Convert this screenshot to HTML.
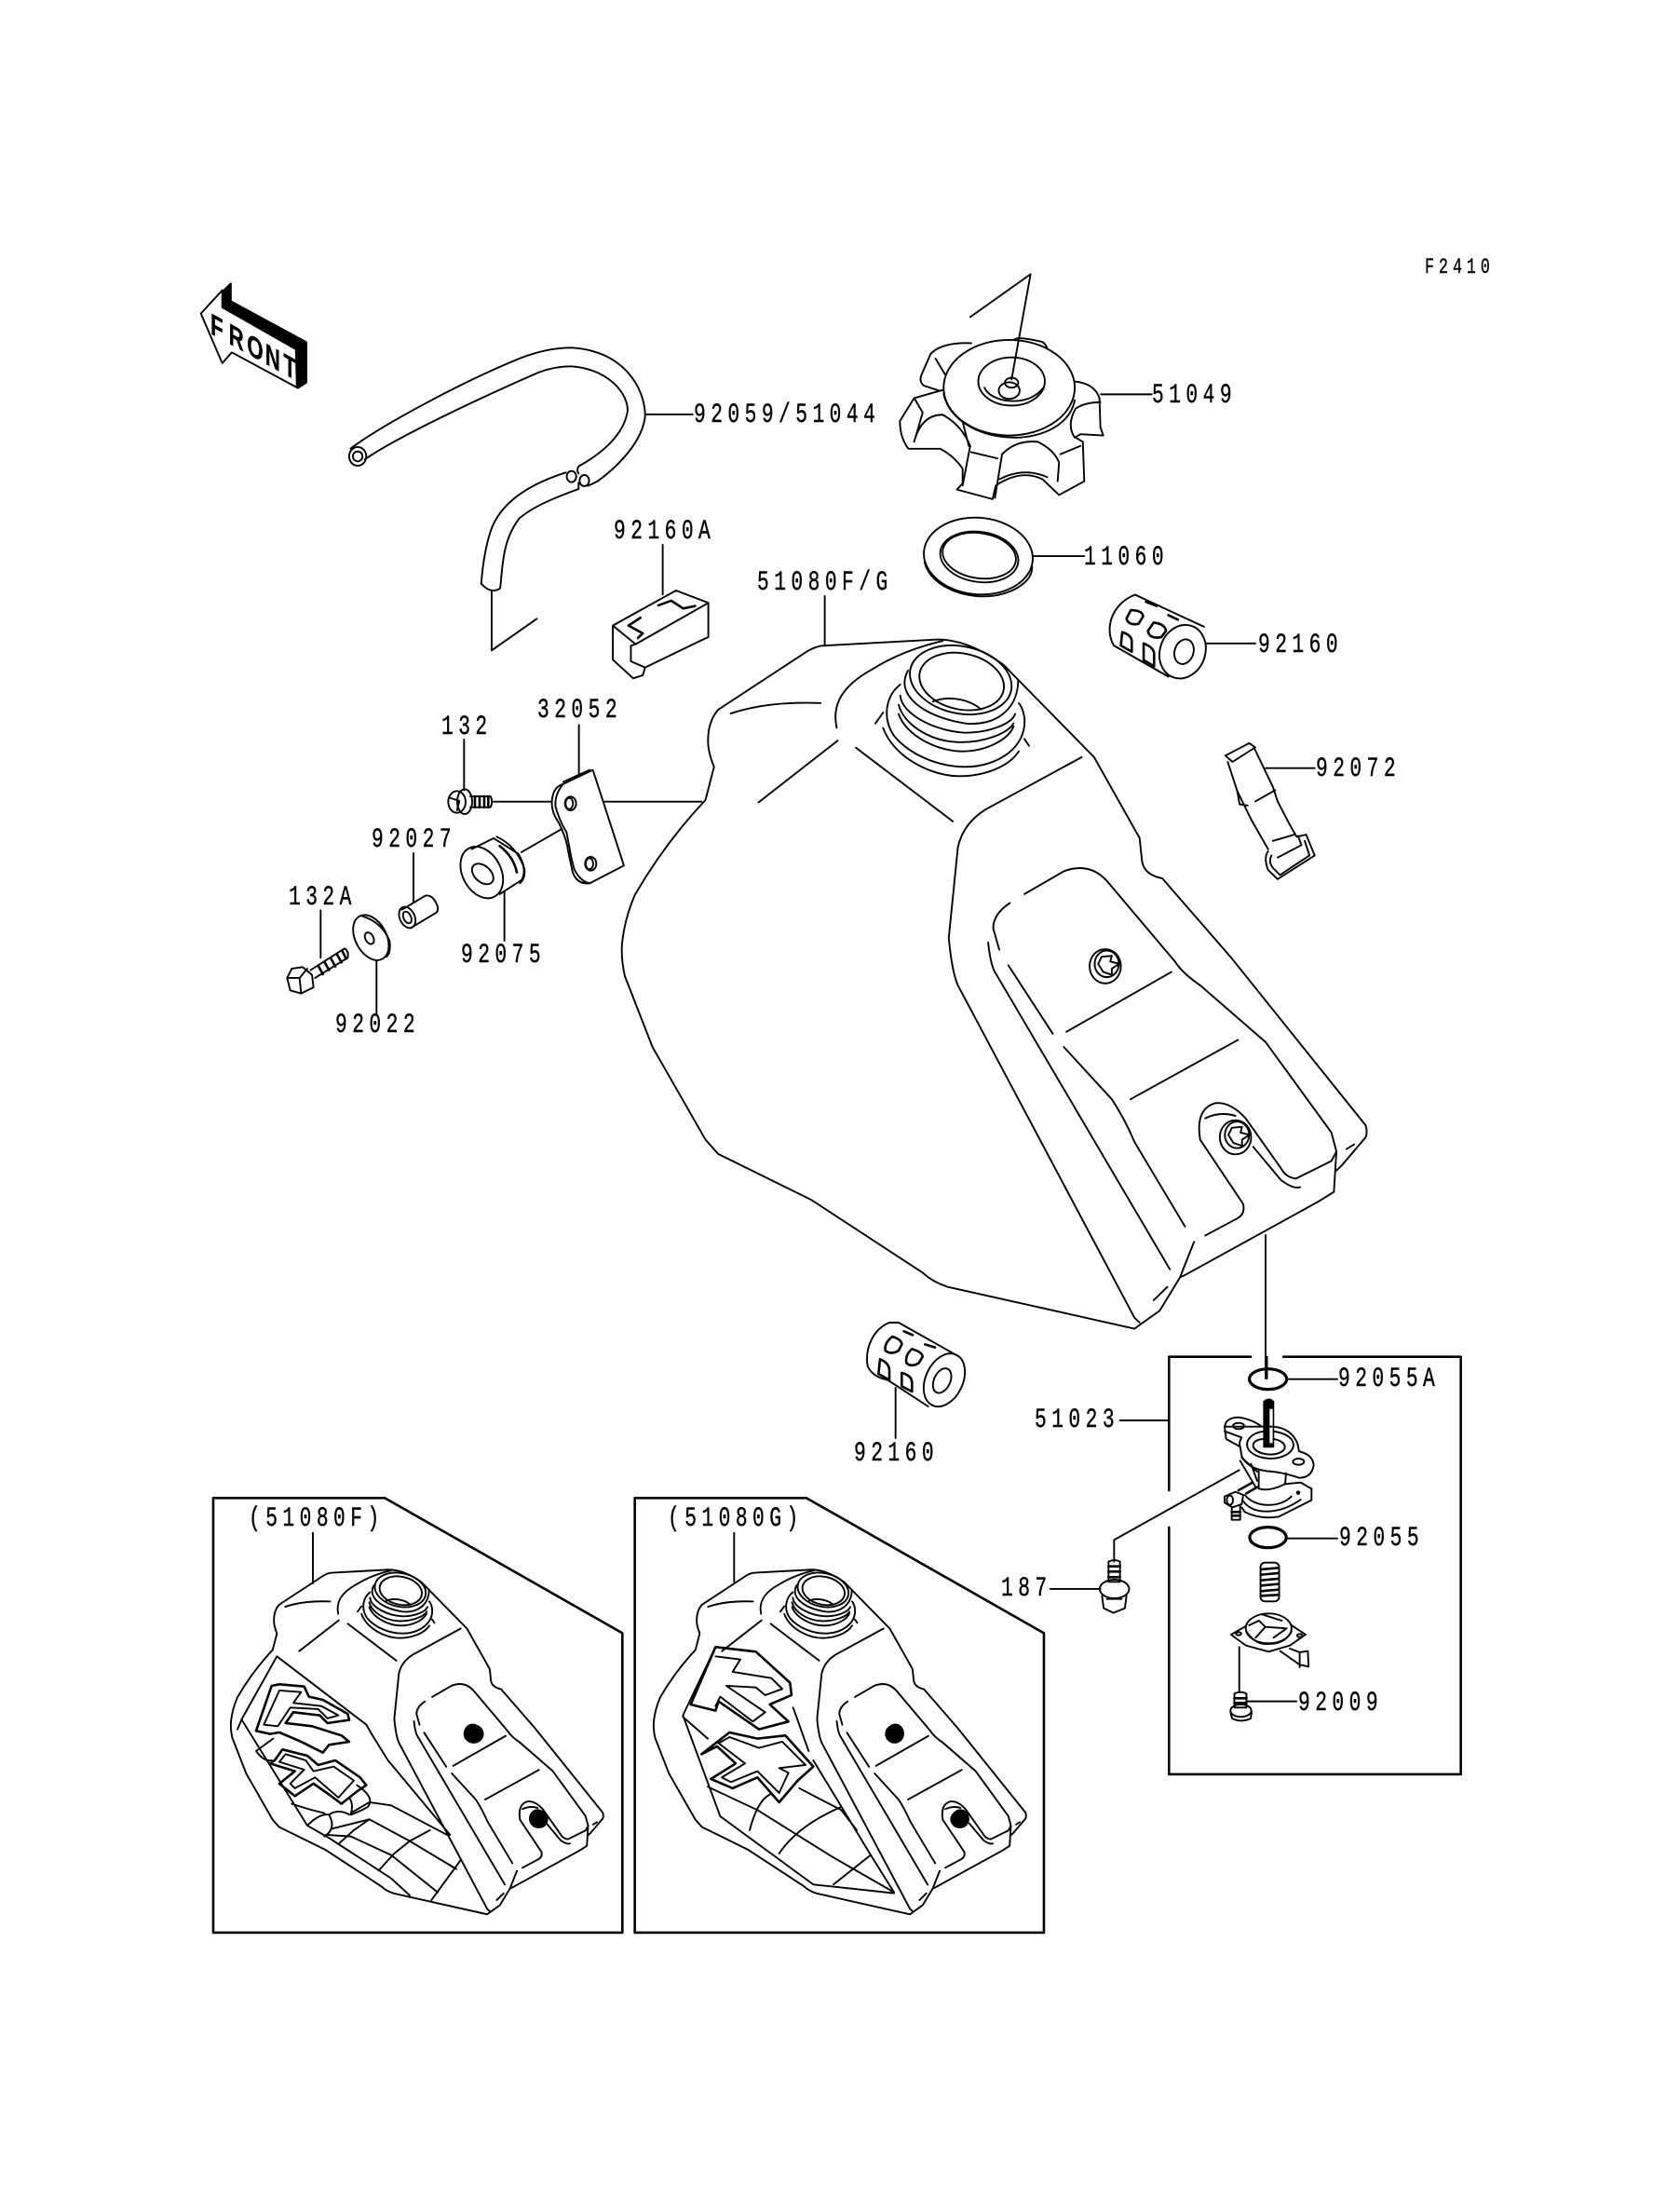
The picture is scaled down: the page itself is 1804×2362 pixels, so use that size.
<!DOCTYPE html>
<html><head><meta charset="utf-8"><style>
html,body{margin:0;padding:0;background:#fff}
svg{display:block}
svg *{vector-effect:non-scaling-stroke}
.s{fill:none;stroke:#000;stroke-width:1.9;stroke-linecap:round;stroke-linejoin:round}
.w{fill:#fff}
.t{stroke-width:2.6}
.o{stroke-width:3.2}
.b{fill:#000}
text{font-family:"Liberation Mono",monospace;font-size:29.5px;letter-spacing:7.6px;fill:#000;stroke:#000;stroke-width:.35}
text.m{font-size:23px;letter-spacing:7px}
text.f{font-family:"Liberation Sans",sans-serif;font-weight:bold;font-size:32px;letter-spacing:0}
</style></head><body>
<svg width="1804" height="2362" viewBox="0 0 1804 2362" xmlns="http://www.w3.org/2000/svg">
<rect width="1804" height="2362" fill="#fff"/>
<defs>
<g id="tank" class="s">
 <g transform="translate(660,660) scale(.542,.51)">
  <path d="M1488,1075Q1492,1090 1488,1100L1440,1160L1430,1170M1430,1130L1425,1215L1395,1235L1130,1390L1120,1395L1080,1465L1030,1503L660,1415Q630,1405 610,1385L390,1232L205,1135L180,1105L75,910L20,760Q12,720 15,690Q20,640 40,590Q100,480 180,390L197,320Q185,290 185,265Q185,225 205,200L380,78Q400,65 415,65L640,52Q700,52 770,105L950,300L1040,470L1045,520Q1050,548 1085,555L1220,720L1488,1075"/>
  <path d="M230,208C280,190 340,183 408,186"/>
  <path d="M440,238C430,190 450,150 510,115Q570,75 650,55"/>
  <path d="M285,395L442,265"/><path d="M478,280L670,435"/>
  <path d="M925,300L735,410Q690,440 680,490L662,680Q668,750 680,780L1030,1480L1040,1490"/>
  <path d="M812,588L890,540Q940,520 975,560L1110,730Q1125,755 1160,780L1290,900L1420,1090L1430,1130L1420,1150L1350,1187Q1330,1185 1320,1165L1250,1060Q1220,1025 1190,1028Q1150,1040 1160,1105L1245,1240Q1250,1260 1235,1270L1170,1307"/>
  <path d="M1170,1060Q1200,1045 1230,1055"/><path d="M1265,1120L1320,1190Q1345,1210 1358,1205"/>
  <path d="M783,607Q750,630 750,660L762,705"/>
  <path d="M740,690Q745,740 755,755L1100,1378"/>
  <path d="M780,738L868,882"/><path d="M895,878L1103,752"/>
  <path d="M890,910L985,1020Q1010,1060 1030,1110L1130,1288"/>
  <path d="M1022,1020L1235,895"/><path d="M1148,1320L1120,1395"/>
  <path d="M1068,1443L1095,1415"/><path d="M1450,1125L1465,1115"/>
  <ellipse cx="972" cy="740" rx="31" ry="36"/><ellipse cx="975" cy="735" rx="24" ry="28"/>
  <path d="M965,720L985,718L982,730L1000,735L985,745L985,758L968,752L958,735Z"/>
  <ellipse cx="1230" cy="1100" rx="31" ry="36"/><ellipse cx="1233" cy="1095" rx="24" ry="28"/>
  <path d="M1223,1080L1243,1078L1240,1090L1258,1095L1243,1105L1243,1118L1226,1112L1216,1095Z"/>
 </g>
 <g transform="translate(940,670) scale(.3333)">
  <ellipse cx="278" cy="185" rx="138" ry="90" transform="rotate(12 278 185)"/>
  <ellipse cx="275" cy="180" rx="166" ry="108" transform="rotate(12 275 180)"/>
  <path d="M185,250C230,230 300,240 340,275"/>
  <path d="M105,150C60,230 160,300 290,320C380,330 460,280 460,180"/>
  <path d="M80,230C85,290 190,345 290,350C370,350 440,320 450,290"/>
  <path d="M75,260C90,320 170,375 260,380C350,385 430,350 445,320"/>
  <path d="M75,290C100,360 200,410 280,410C360,410 430,370 445,330"/>
  <path d="M80,195C35,230 20,300 60,360C110,420 200,460 290,460C390,460 490,400 480,300Q475,270 462,255"/>
  <path d="M25,335C60,430 180,490 270,490C350,490 430,460 462,410"/>
  <path d="M480,370L495,392"/><path d="M0,320L25,285"/>
 </g>
</g>
</defs>

<!-- FRONT arrow, hose, clamp block -->
<g transform="translate(180,260) scale(.5102,.3333)" class="s">
 <path class="b" d="M115,160L133,133L133,190L292,322L292,452L274,470L270,350L115,210Z"/>
 <path class="w" d="M70,230L115,155L115,210L270,345L272,468L135,355L115,390Z"/>
 <path d="M385,665C450,590 620,450 740,375C790,345 830,340 850,340C960,350 1005,470 1005,560C1000,640 950,720 905,770L885,785"/>
 <path d="M415,700C480,630 660,500 780,420C810,402 835,400 850,400C930,410 970,490 968,545C960,620 915,680 865,722Q860,735 865,745"/>
 <ellipse cx="400" cy="690" rx="18" ry="30"/><ellipse cx="400" cy="690" rx="10" ry="16"/>
 <ellipse cx="850" cy="755" rx="10" ry="18"/><ellipse cx="877" cy="768" rx="10" ry="18"/>
 <path d="M838,742C760,780 700,840 680,930Q665,1000 660,1100Q680,1135 700,1115C705,1040 705,960 740,890C770,850 820,820 865,795L865,775"/>
 <path d="M682,1125L682,1315L777,1213"/>
 <path d="M1005,555L1105,555"/>
 <path d="M1042,975L1042,1135"/>
 <path d="M937,1235L1070,1122L1138,1162L985,1295Z"/>
 <path d="M937,1235L937,1345L980,1405L1000,1395L1005,1370L1120,1285L1138,1272L1138,1162"/>
 <path d="M985,1295L975,1300L975,1350L1005,1370"/>
 <path class="t" d="M1033,1170L1060,1155L1085,1180L1110,1172"/>
 <path class="t" d="M995,1210L970,1235L1000,1260L990,1275"/>
 <path d="M1383,1140L1383,1300"/>
</g>
<text class="f" transform="matrix(.7,.385,0,1,226,358)" x="0 28 56 84 112">FRONT</text>

<!-- main tank -->
<use href="#tank"/>
<path class="s" d="M1359,1326L1359,1480"/>

<!-- filler cap, gasket, filter, clip -->
<g transform="translate(900,260) scale(.5102,.4464)" class="s">
 <path d="M175,320Q170,335 180,345L215,358M175,320L195,268Q220,240 280,243M205,280L225,318"/>
 <path d="M370,235Q375,225 430,240Q442,250 440,265"/>
 <path d="M498,335Q540,340 550,375L552,445L558,465L510,462L498,470Q480,440 500,400Q520,385 552,385"/>
 <path d="M222,355L160,375L130,430Q130,470 148,497L215,497Q245,515 262,545L262,580L250,595L325,618L332,585Q385,545 430,570L465,608L518,575L515,480L500,470"/>
 <path d="M160,375L178,410L160,480Q175,415 220,415Q260,440 278,490L262,585"/>
 <path d="M330,615L345,510Q375,475 420,480Q455,500 465,530L462,575"/>
 <path d="M280,505L335,520M468,510L510,490M255,400L275,490M340,570Q390,540 440,565"/>
 <ellipse class="w" cx="360" cy="350" rx="138" ry="115"/>
 <path d="M222,365C235,430 300,472 380,470C445,465 490,430 498,380"/>
 <ellipse cx="365" cy="335" rx="70" ry="58"/>
 <path d="M308,350C320,385 400,400 432,350"/>
 <ellipse cx="360" cy="357" rx="22" ry="20"/><ellipse cx="365" cy="338" rx="14" ry="12"/>
 <path d="M278,180L405,77L365,330"/>
 <path d="M553,366L660,366"/>
 <ellipse cx="295" cy="755" rx="115" ry="92" transform="rotate(8 295 755)"/>
 <ellipse cx="297" cy="757" rx="83" ry="60" transform="rotate(12 297 757)"/>
 <path d="M182,770C195,830 270,860 330,850C380,840 410,810 408,780"/>
 <ellipse cx="297" cy="754" rx="78" ry="54" transform="rotate(12 297 754)"/>
 <path d="M412,755L518,755"/>
 <path d="M625,848L770,925M625,848C575,870 560,930 580,970L695,1045"/>
 <ellipse cx="725" cy="985" rx="48" ry="65" transform="rotate(12 725 985)"/>
 <ellipse cx="728" cy="985" rx="20" ry="30" transform="rotate(12 728 985)"/>
 <path class="t" d="M616,885Q640,885 642,900L632,918Q610,922 607,905Z"/>
 <path class="t" d="M664,915Q688,918 690,935L680,950Q655,955 652,935Z"/>
 <path class="t" d="M598,938Q618,945 618,960L618,985L595,970Z"/>
 <path class="t" d="M643,965Q665,975 665,990L665,1020L643,1005Z"/>
 <path class="t" d="M648,865L670,875M695,897L715,908"/>
 <path d="M775,965L878,965"/>
 <path d="M815,1235L865,1205L878,1215L830,1250Z"/>
 <path d="M875,1215L915,1310L925,1345L950,1400L965,1430M820,1250L840,1320L870,1390L905,1460"/>
 <path d="M878,1345L920,1318M915,1440L960,1425M925,1480L975,1450L968,1428"/>
 <path d="M840,1320L845,1352L862,1355M905,1465Q895,1480 905,1510L925,1532L1003,1475L985,1425L965,1430M912,1475Q905,1490 915,1505L930,1522L992,1475L982,1440"/>
 <path d="M900,1265L1003,1265"/>
</g>

<!-- bracket and fasteners -->
<g transform="translate(280,720) scale(.3333)" class="s">
 <path d="M655,222L655,385M750,422L935,422M1015,422L1420,422M1025,175L1025,335M840,585L970,510M785,710L785,870M492,588L492,745M373,935L373,1105M193,772L193,925"/>
 <ellipse cx="632" cy="423" rx="28" ry="35"/><ellipse cx="657" cy="422" rx="24" ry="40"/>
 <path d="M675,405L740,405Q750,422 740,440L675,440"/>
 <path class="t" d="M690,405L690,440M705,405L705,440M720,405L720,440M733,405L733,440"/>
 <path d="M610,410L640,420L632,450"/>
 <path class="w" d="M1070,320L1170,628L1060,685Q1020,690 1005,650L990,580Q985,540 960,490Q925,440 945,390Q955,370 975,365Z"/>
 <path d="M975,365Q945,400 950,440Q965,490 985,520L1000,600L1010,640Q1030,680 1060,685"/>
 <path d="M975,358L1060,320"/>
 <ellipse cx="998" cy="428" rx="18" ry="22"/><ellipse cx="994" cy="428" rx="12" ry="18"/>
 <ellipse cx="1063" cy="622" rx="18" ry="22"/><ellipse cx="1059" cy="622" rx="12" ry="18"/>
 <path d="M680,575L750,540L830,590Q860,640 840,675L770,720"/>
 <path d="M760,535Q825,565 850,640Q852,670 835,685"/>
 <path class="t" d="M770,565Q815,600 825,650"/>
 <ellipse cx="712" cy="650" rx="62" ry="88" transform="rotate(-28 712 650)"/>
 <ellipse cx="715" cy="655" rx="40" ry="26" transform="rotate(42 715 655)"/>
 <path d="M455,770L530,725Q555,720 570,760Q572,775 565,780L485,828"/>
 <ellipse cx="472" cy="795" rx="24" ry="36" transform="rotate(-25 472 795)"/>
 <ellipse cx="472" cy="795" rx="12" ry="20" transform="rotate(-25 472 795)"/>
 <ellipse cx="355" cy="860" rx="50" ry="78" transform="rotate(-28 355 860)"/>
 <path d="M325,790Q390,810 415,870Q420,910 405,922"/>
 <ellipse cx="350" cy="862" rx="13" ry="20" transform="rotate(-28 350 862)"/>
 <path d="M160,965L270,895Q285,905 280,925L175,990"/>
 <path class="t" d="M185,950L200,978M205,938L220,965M225,925L240,953M245,913L260,940M262,902L275,928"/>
 <path d="M85,990L100,960L135,955L165,980L170,1020L130,1040L95,1030Z"/>
 <path d="M85,990L125,990L130,1038M125,990L150,960"/>
</g>

<!-- lower filter -->
<g transform="translate(900,1400) scale(.3333)" class="s">
 <path d="M165,60L195,60L390,170M165,60C115,80 85,140 95,200Q110,235 160,245L290,330"/>
 <ellipse cx="342" cy="245" rx="60" ry="90" transform="rotate(25 342 245)"/>
 <ellipse cx="335" cy="247" rx="26" ry="42" transform="rotate(25 335 247)"/>
 <path class="t" d="M175,105Q205,115 205,130L195,150Q170,165 152,150Q148,125 175,105Z"/>
 <path class="t" d="M238,145Q272,155 272,170L260,190Q235,205 220,190Q215,165 238,145Z"/>
 <path class="t" d="M135,178Q165,190 165,215L165,245L130,225Z"/>
 <path class="t" d="M205,222Q238,230 238,255L238,282L205,265Z"/>
 <path class="t" d="M212,88L240,100M280,130L312,140"/>
 <path d="M185,270L185,432"/>
</g>

<!-- fuel cock box -->
<g transform="translate(1050,1450) scale(.3509,.3333)" class="s">
 <path class="t" d="M585,450L585,20L835,20M935,20L1478,20L1478,1365L585,1365L585,570"/>
 <path d="M885,20L885,90M950,92L1100,92M950,605L1100,605M435,225L585,225M800,385L417,610L417,680M222,768L375,768M800,955L800,1095M825,1130L975,1130"/>
 <ellipse class="o" cx="888" cy="92" rx="57" ry="33"/>
 <ellipse class="o" cx="888" cy="602" rx="56" ry="33"/>
 <path d="M400,680Q418,670 435,680L435,745L400,745Z"/>
 <path class="t" d="M400,695L435,695M400,712L435,712M400,730L435,730"/>
 <ellipse cx="418" cy="768" rx="45" ry="30"/>
 <path d="M380,790L385,830L415,845L450,830L455,790M395,800L440,800"/>
 <rect x="865" y="683" width="57" height="125" rx="14"/>
 <path class="t" d="M868,705L920,700M868,722L920,717M868,740L920,735M868,757L920,752M868,775L920,770M868,790L920,787"/>
 <path d="M775,915L825,885L960,885L1003,915L955,950L890,970L820,950Z"/>
 <ellipse class="w" cx="890" cy="895" rx="70" ry="48"/>
 <path d="M830,885L860,870L880,890L850,925M880,890L945,895L905,925M870,850L930,870"/>
 <path d="M822,905Q850,950 890,945Q940,945 960,905"/>
 <path d="M925,968L985,1012L1012,1018L1010,968L985,972L955,960M985,975L985,1020"/>
 <ellipse cx="798" cy="912" rx="8" ry="5"/><ellipse cx="985" cy="918" rx="8" ry="5"/>
 <path d="M785,1105Q803,1095 822,1105L822,1150L785,1150Z"/>
 <path class="t" d="M785,1120L822,1120M785,1135L822,1135"/>
 <ellipse cx="805" cy="1160" rx="32" ry="20"/>
 <path d="M773,1165L778,1185Q805,1200 835,1185L838,1165"/>
</g>
<g transform="translate(1280,1490) scale(.3333)" class="s">
 <path class="b" d="M232,45Q248,30 262,45L262,190L232,190Z"/>
 <path class="w" d="M250,68L260,68L260,178L250,178Z" style="stroke:none"/>
 <path d="M105,125Q110,95 150,95Q190,100 225,125M262,125Q320,130 340,180L345,205Q390,215 392,250Q385,290 345,290Q300,275 260,270Q180,265 160,220L155,190L110,165L105,125Z"/>
 <path d="M155,190Q150,175 160,160L105,140"/>
 <ellipse cx="150" cy="123" rx="18" ry="10"/><ellipse cx="343" cy="238" rx="18" ry="10"/>
 <path d="M232,140C190,145 170,170 180,195C195,225 260,240 305,215C345,190 330,150 262,140"/>
 <path d="M232,165C205,165 190,180 200,195C215,215 265,222 290,205C310,190 295,170 262,165"/>
 <path d="M160,225L210,270M155,235L205,320M190,245L210,300"/>
 <path d="M215,265L215,325Q250,335 300,310L303,275"/>
 <path d="M385,325L385,362L280,415Q220,425 170,400L160,385M300,310L350,305L385,325"/>
 <path d="M170,345C200,385 280,390 320,350M165,365C195,410 280,410 350,360"/>
 <circle class="b" cx="342" cy="338" r="4"/>
 <path d="M105,350L140,335L165,345L160,375L130,385L105,370Z"/>
 <path class="t" d="M150,330L195,305M175,340L210,320"/>
 <ellipse cx="122" cy="362" rx="10" ry="15"/>
 <path d="M128,385L128,425L155,425L155,380"/>
 <path class="t" d="M128,400L155,400M128,412L155,412"/>
</g>

<!-- inset frames -->
<g transform="translate(220,1600) scale(.3333)" class="s">
 <path class="t" d="M27,25L580,25L1345,460L1345,1425L27,1425Z"/>
 <path d="M348,137L348,300"/>
</g>
<g transform="translate(680,1600) scale(.3333)" class="s">
 <path class="t" d="M5,25L558,25L1323,460L1323,1425L5,1425Z"/>
 <path d="M325,137L325,295"/>
</g>
<use href="#tank" transform="translate(-86,1342) scale(.5)"/>
<use href="#tank" transform="translate(368,1342) scale(.5)"/>

<!-- decal F -->
<g transform="translate(220,1600) scale(.3333)" class="s">
 <ellipse class="b" cx="866" cy="785" rx="30" ry="28"/><ellipse class="b" cx="1077" cy="1060" rx="26" ry="26"/>
 <path d="M232,535L520,755L540,790L590,870L790,1110M232,535L120,735L105,770M118,738L330,1080L400,1120L600,1250L660,1305"/>
 <path class="t" d="M215,630L240,625L320,632L335,665L380,675L460,720L465,740L395,750L370,725L285,715L260,750L345,760L440,790L465,810L400,820L380,845L310,810L240,780L210,785L165,775Z"/>
 <path d="M240,645L310,650L285,685L375,695L430,725L395,735L365,705L275,700L235,760L190,755Z"/>
 <path class="t" d="M225,870L250,835L330,855L365,885L420,870L500,925L520,950L490,970L440,1010L400,980L350,945L290,985L240,945L290,905L210,880Z"/>
 <path d="M260,850L325,870L350,905L415,890L480,935L430,990L355,925L290,960L275,945L320,900L240,875Z"/>
 <path d="M490,950Q550,990 525,1020Q500,1035 470,1045Q480,1010 465,990"/>
 <path d="M280,1010Q340,1030 385,1040M330,1080Q370,1040 400,1045Q425,1090 385,1115M400,1045Q430,1025 465,1045"/>
 <path d="M470,1040L530,1005L600,1015L780,1110M410,1090L530,1060L660,1130L810,1220M390,1110L470,1115L600,1175L750,1295"/>
 <path d="M430,1140L480,1095L530,1060M560,1225L610,1170L660,1130L725,1095M730,1320L825,1190"/>
 <path d="M165,840L220,800M165,840Q190,875 215,870"/>
</g>
<!-- decal G -->
<g transform="translate(680,1600) scale(.3333)" class="s">
 <ellipse class="b" cx="842" cy="785" rx="28" ry="28"/><ellipse class="b" cx="1052" cy="1060" rx="28" ry="26"/>
 <path class="t" d="M265,505L395,520L505,620L510,660L440,690L500,745L405,770L275,680L265,710L185,690Z"/>
 <path d="M265,535L345,545L320,585L445,605L480,640L425,660L395,635L300,630L425,715L385,745L280,665L265,695"/>
 <path class="t" d="M220,850L310,780L400,800L490,790L580,890L530,935L470,1005L400,925L320,960L250,930L330,880L270,825Z"/>
 <path d="M275,815L310,795L405,830L480,810L555,885L470,895L500,910L470,975L400,905L315,940L285,925L360,880Z"/>
 <path d="M265,505L160,725L280,1050M160,730L240,800M240,955L400,1030L640,1180L840,1295M280,1050L580,1270L840,1298"/>
 <path d="M375,1095Q400,1000 440,980M470,1170Q530,1080 670,1020M645,1270L765,1175M535,960L670,1030L720,1095M580,870L765,1175L840,1295M515,700L565,840"/>
</g>

<!-- labels -->
<text class="m" transform="translate(1530,293) scale(.72,1)">F2410</text>
<text transform="translate(745,453) scale(.72,1)">92059/51044</text>
<text transform="translate(659,578) scale(.72,1)">92160A</text>
<text transform="translate(813,633) scale(.72,1)">51080F/G</text>
<text transform="translate(1237,432) scale(.72,1)">51049</text>
<text transform="translate(1164,606) scale(.72,1)">11060</text>
<text transform="translate(1351,700) scale(.72,1)">92160</text>
<text transform="translate(1413,833) scale(.72,1)">92072</text>
<text transform="translate(577,770) scale(.72,1)">32052</text>
<text transform="translate(474,788) scale(.72,1)">132</text>
<text transform="translate(399,909) scale(.72,1)">92027</text>
<text transform="translate(310,971) scale(.72,1)">132A</text>
<text transform="translate(495,1033) scale(.72,1)">92075</text>
<text transform="translate(360,1108) scale(.72,1)">92022</text>
<text transform="translate(917,1568) scale(.72,1)">92160</text>
<text transform="translate(1111,1532) scale(.72,1)">51023</text>
<text transform="translate(1437,1488) scale(.72,1)">92055A</text>
<text transform="translate(1438,1659) scale(.72,1)">92055</text>
<text transform="translate(1075,1713) scale(.72,1)">187</text>
<text transform="translate(1394,1836) scale(.72,1)">92009</text>
<text transform="translate(267,1638) scale(.72,1)">(51080F)</text>
<text transform="translate(717,1638) scale(.72,1)">(51080G)</text>
</svg>
</body></html>
